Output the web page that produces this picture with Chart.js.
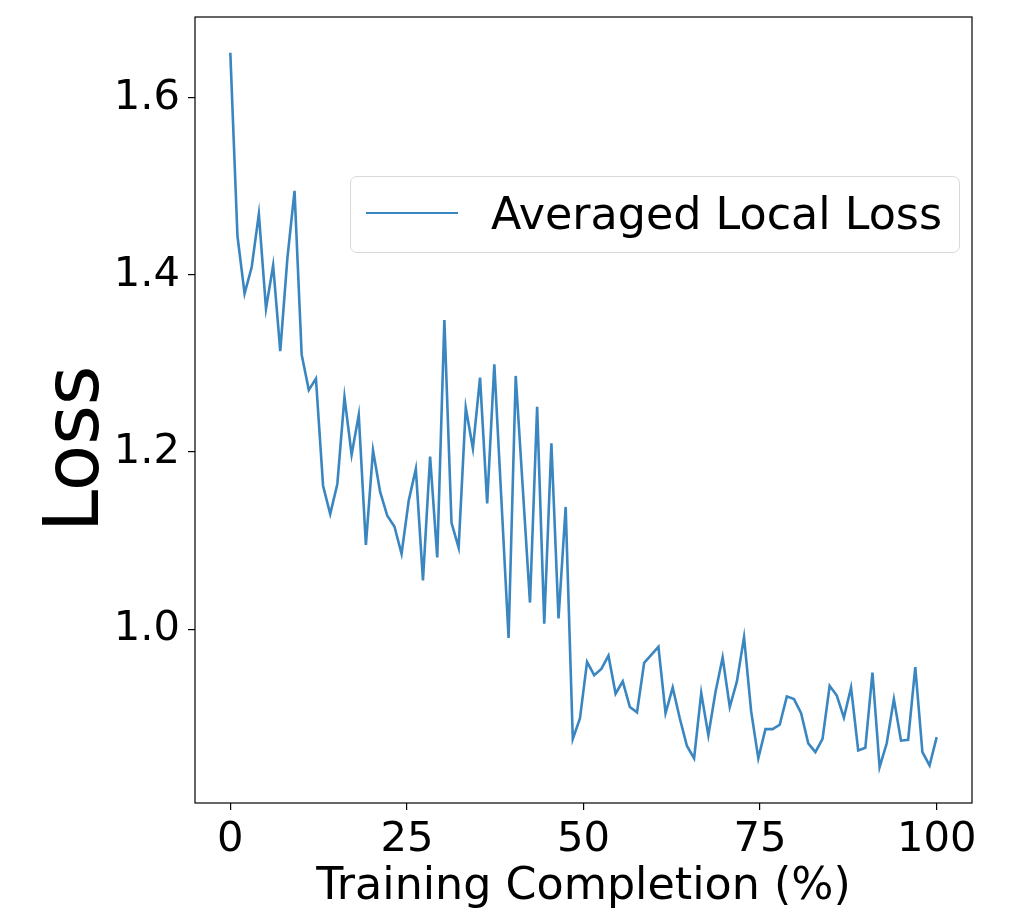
<!DOCTYPE html>
<html>
<head>
<meta charset="utf-8">
<script src="https://cdn.jsdelivr.net/npm/chart.js@4/dist/chart.umd.min.js"></script>
<style>
  html, body { margin: 0; padding: 0; background: #fff; }
  #wrap { position: relative; width: 1016px; height: 916px; }
  #legend {
    position: absolute; left: 350px; top: 176px; width: 610px; height: 77px;
    border: 1.5px solid #d9d9d9; border-radius: 7px; background: rgba(255,255,255,0.8);
    font-family: "DejaVu Sans", sans-serif; font-size: 44.4px; color: #000;
    box-sizing: border-box;
  }
  #legend .swatch { position: absolute; left: 15px; top: 35px; width: 92px; height: 0; border-top: 2.5px solid #3a86c0; }
  #legend .label { position: absolute; left: 140px; top: 9px; line-height: 56px; white-space: nowrap; }
</style>
</head>
<body>
<div id="wrap">
  <canvas id="c" width="1016" height="916"></canvas>
  <div id="legend"><div class="swatch"></div><div class="label">Averaged Local Loss</div></div>
</div>
<script>
const seriesName = "Averaged Local Loss";
const xTitle = "Training Completion (%)";
const yTitle = "Loss";
const xTickValues = [0, 25, 50, 75, 100];
const yTickValues = [1.0, 1.2, 1.4, 1.6];
const lossValues = [
  1.651, 1.444, 1.379, 1.409, 1.469, 1.362, 1.411, 1.314, 1.419, 1.495,
  1.310, 1.270, 1.283, 1.162, 1.130, 1.164, 1.262, 1.197, 1.242, 1.095,
  1.202, 1.155, 1.128, 1.116, 1.085, 1.145, 1.181, 1.055, 1.195, 1.081,
  1.349, 1.120, 1.092, 1.250, 1.204, 1.284, 1.142, 1.299, 1.145, 0.990,
  1.286, 1.158, 1.030, 1.251, 1.006, 1.210, 1.012, 1.138, 0.876, 0.899,
  0.963, 0.948, 0.955, 0.970, 0.927, 0.941, 0.912, 0.906, 0.962, 0.971,
  0.980, 0.905, 0.934, 0.899, 0.868, 0.854, 0.928, 0.880, 0.929, 0.968,
  0.912, 0.941, 0.991, 0.907, 0.854, 0.887, 0.887, 0.892, 0.924, 0.921,
  0.905, 0.871, 0.861, 0.876, 0.936, 0.925, 0.900, 0.934, 0.863, 0.866,
  0.951, 0.844, 0.871, 0.921, 0.874, 0.875, 0.957, 0.861, 0.846, 0.878
];
// completion percentage of each logged round (evenly spaced from 0 to 100)
const completion = lossValues.map((_, i) => i * 100 / (lossValues.length - 1));
const points = lossValues.map((v, i) => ({ x: completion[i], y: v }));

const frame = {
  id: 'frame',
  afterDatasetsDraw(chart) {
    const a = chart.chartArea, ctx = chart.ctx;
    ctx.save();
    ctx.strokeStyle = '#000';
    ctx.lineWidth = 1.2;
    ctx.strokeRect(a.left, a.top, a.right - a.left, a.bottom - a.top);
    ctx.restore();
  }
};

// y-axis title, placed like the reference (rotated, baseline to the right)
const yLabel = {
  id: 'yLabel',
  afterDraw(chart) {
    const ctx = chart.ctx;
    ctx.save();
    ctx.translate(98, 449);
    ctx.rotate(-Math.PI / 2);
    ctx.font = '76px "DejaVu Sans"';
    ctx.fillStyle = '#000';
    ctx.textAlign = 'center';
    ctx.textBaseline = 'alphabetic';
    ctx.fillText(yTitle, 0, 0);
    ctx.restore();
  }
};

new Chart(document.getElementById('c'), {
  type: 'line',
  data: {
    datasets: [{
      label: seriesName,
      data: points,
      borderColor: '#3a86c0',
      borderWidth: 2.6,
      pointRadius: 0,
      tension: 0,
      fill: false
    }]
  },
  options: {
    responsive: false,
    devicePixelRatio: 1,
    animation: false,
    layout: { padding: { left: 0, top: 17, right: 44, bottom: 0 } },
    plugins: { legend: { display: false }, tooltip: { enabled: false } },
    scales: {
      x: {
        type: 'linear',
        min: -5, max: 105,
        afterFit: s => { s.height = 113; s.paddingLeft = 0; s.paddingRight = 0; },
        afterBuildTicks: s => { s.ticks = xTickValues.map(v => ({ value: v })); },
        border: { display: false },
        grid: { drawOnChartArea: false, drawTicks: true, tickLength: 7, color: '#000', lineWidth: 1.2 },
        ticks: {
          color: '#000', padding: 5, maxRotation: 0,
          font: { family: 'DejaVu Sans', size: 41.7 },
          callback: v => String(v)
        },
        title: {
          display: true, text: xTitle, color: '#000',
          font: { family: 'DejaVu Sans', size: 44.4 },
          padding: { top: 0, bottom: 2 }
        }
      },
      y: {
        type: 'linear',
        min: 0.8036, max: 1.6914,
        afterFit: s => { s.width = 195; s.paddingTop = 0; s.paddingBottom = 0; },
        afterBuildTicks: s => { s.ticks = yTickValues.map(v => ({ value: v })); },
        border: { display: false },
        grid: { drawOnChartArea: false, drawTicks: true, tickLength: 7, color: '#000', lineWidth: 1.2 },
        ticks: {
          color: '#000', padding: 8,
          font: { family: 'DejaVu Sans', size: 41.7 },
          callback: v => Number(v).toFixed(1)
        },
        title: { display: false }
      }
    }
  },
  plugins: [frame, yLabel]
});
</script>
</body>
</html>
